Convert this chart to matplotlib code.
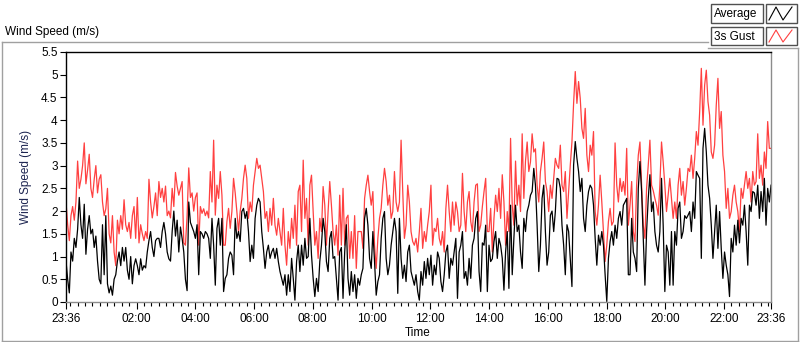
import numpy as np
import matplotlib
matplotlib.use("Agg")
import matplotlib.pyplot as plt
from matplotlib.lines import Line2D
from matplotlib.patches import Rectangle

plt.rcParams['font.family'] = ['Liberation Sans', 'DejaVu Sans']

# Readings taken at even steps (~3.4 min) from 23:36 to 23:36, in five stretches
gust_1 = [2.2, 1.7, 1.35, 1.9, 2.1, 1.8, 2.2, 3.1, 2.5, 2.7, 3.0, 3.5, 2.6, 2.9, 3.25,
          2.5, 2.3, 2.7, 3.0, 2.4, 2.7, 2.8, 2.2, 1.9, 2.05, 2.5, 1.5, 1.3, 1.9, 1.1,
          0.8, 1.8, 1.5, 1.9, 1.6, 2.25, 1.7, 1.55, 1.75, 1.4, 1.9, 2.1, 1.4, 2.3, 1.3,
          1.7, 1.5, 1.35, 1.55, 1.4, 2.7, 2.2, 1.85, 2.1, 2.4, 1.9, 2.65, 2.3, 2.5, 2.2,
          2.55, 1.9, 2.0, 1.85, 2.5, 2.1, 2.85, 2.55, 2.35, 2.5, 2.65, 1.3, 1.25, 1.9,
          2.95, 2.3, 2.4, 2.0, 2.3, 2.4, 1.25, 2.1, 1.95, 2.05, 1.9]
gust_2 = [2.0, 1.85, 2.87, 2.2, 3.56, 1.91, 2.57, 2.28, 2.87, 2.35, 1.25, 1.25, 1.77,
          2.06, 1.62, 1.99, 2.72, 2.4, 1.99, 1.55, 1.99, 2.28, 2.72, 3.01, 2.72, 1.84,
          2.2, 1.99, 2.57, 2.87, 3.16, 2.94, 3.01, 2.72, 2.43, 1.84, 1.99, 1.55, 2.06,
          1.69, 2.28, 1.69, 1.47, 1.84, 1.55, 1.25, 2.06, 1.25, 0.81, 1.55, 1.18, 1.84,
          1.4, 2.13, 1.25, 2.43, 2.57, 1.55, 3.12, 1.84, 2.28, 1.25, 2.57, 2.79, 1.99,
          1.25, 1.55, 0.96, 1.84, 1.55, 2.54, 2.13, 1.25, 1.99, 2.65, 2.13, 1.55, 1.25,
          1.69, 1.03, 2.35, 1.25, 2.5, 1.25, 1.84]
gust_3 = [1.91, 0.96, 1.55, 0.96, 1.9, 0.74, 1.55, 1.55, 1.55, 1.18, 2.28, 2.57, 2.79,
          2.43, 2.13, 2.43, 1.25, 0.74, 1.4, 1.84, 2.06, 2.57, 2.94, 2.65, 2.13, 2.35,
          1.84, 1.99, 2.87, 2.2, 1.99, 2.2, 3.56, 2.43, 1.4, 1.69, 2.57, 2.2, 1.55, 1.33,
          1.25, 1.4, 1.1, 1.55, 2.06, 1.18, 1.55, 1.33, 1.69, 1.99, 2.57, 1.25, 1.62,
          1.55, 1.84, 1.4, 1.25, 1.55, 1.1, 2.06, 2.57, 1.99, 1.55, 2.2, 1.69, 2.2, 1.99,
          1.55, 1.69, 2.83, 1.99, 1.55, 2.2, 2.43, 1.77, 1.55, 2.2, 2.57, 2.6, 1.55,
          1.69, 2.1, 2.43, 2.72, 1.55]
gust_4 = [1.55, 2.06, 1.1, 1.84, 2.35, 1.99, 2.5, 1.84, 2.8, 2.2, 1.25, 1.99, 1.55,
          3.6, 2.13, 1.69, 3.1, 2.13, 2.57, 1.99, 3.7, 2.28, 3.1, 3.52, 2.87, 3.08, 3.7,
          3.3, 3.37, 2.57, 2.2, 2.87, 3.16, 3.52, 2.65, 2.43, 1.99, 2.57, 2.28, 2.72,
          3.16, 3.01, 2.94, 3.45, 2.57, 2.43, 2.87, 1.84, 2.43, 3.01, 3.52, 4.37, 5.07,
          4.37, 4.85, 4.48, 3.82, 3.6, 4.26, 3.23, 2.87, 3.45, 3.23, 3.75, 1.99, 1.69,
          2.13, 2.79, 2.2, 1.55, 0.89, 1.25, 1.77, 2.06, 1.69, 1.77, 3.5, 2.57, 2.2,
          2.72, 2.43, 2.65, 2.35, 3.38, 1.69]
gust_5 = [2.13, 2.65, 1.55, 1.33, 2.57, 3.23, 3.52, 2.57, 1.69, 1.4, 2.5, 3.01, 3.56,
          2.57, 2.45, 2.28, 2.13, 1.91, 2.57, 3.52, 3.08, 2.57, 1.99, 2.35, 2.72, 2.28,
          1.84, 2.2, 1.84, 2.57, 2.94, 2.35, 2.65, 2.13, 2.5, 2.94, 2.87, 3.23, 2.72,
          3.16, 3.75, 3.45, 4.19, 5.14, 3.89, 4.77, 5.1, 4.41, 4.11, 3.3, 3.16, 3.45,
          4.33, 4.92, 3.82, 4.19, 3.23, 2.87, 2.06, 2.5, 1.84, 1.99, 2.35, 2.57, 2.2,
          1.99, 1.55, 2.5, 2.28, 2.57, 2.87, 2.5, 2.72, 2.2, 2.87, 2.57, 2.65, 3.7, 2.72,
          3.01, 2.57, 3.3, 2.94, 3.97, 3.38, 3.38]

avg_1 = [0.9, 0.5, 0.2, 1.1, 0.9, 1.4, 1.2, 1.6, 2.3, 1.7, 1.4, 2.15, 1.05, 1.6, 1.9,
         1.5, 1.6, 1.2, 1.45, 0.9, 0.5, 0.4, 1.7, 0.6, 1.9, 0.4, 0.2, 0.35, 0.15, 0.5,
         0.6, 0.9, 1.1, 0.8, 1.2, 0.9, 1.2, 0.7, 0.5, 1.0, 0.4, 0.8, 0.95, 0.8, 0.6,
         0.95, 0.7, 0.8, 0.75, 1.1, 1.35, 1.55, 1.2, 1.0, 1.35, 1.4, 1.4, 1.2, 1.55,
         1.75, 1.5, 1.1, 0.95, 0.9, 1.55, 2.0, 1.45, 1.8, 1.1, 1.65, 1.4, 1.1, 0.5,
         0.25, 2.2, 1.75, 1.65, 1.55, 1.4, 1.7, 0.6, 1.55, 1.5, 1.4, 1.55]
avg_2 = [1.5, 1.4, 0.96, 1.84, 1.25, 0.37, 1.62, 1.84, 1.25, 1.84, 0.23, 0.52, 0.6,
         0.96, 1.1, 1.03, 0.6, 1.84, 1.4, 1.55, 1.33, 1.99, 2.06, 1.84, 1.99, 1.55,
         0.89, 1.25, 0.96, 1.84, 2.13, 2.28, 2.2, 1.55, 1.18, 0.74, 1.1, 1.25, 0.96,
         1.1, 1.18, 0.96, 1.18, 0.89, 0.67, 0.52, 0.37, 0.6, 0.15, 0.6, 0.23, 0.96,
         0.52, 0.04, 0.89, 1.25, 0.67, 1.25, 0.81, 1.4, 0.96, 1.0, 1.84, 1.03, 0.52,
         0.12, 0.52, 0.23, 0.89, 1.25, 1.84, 1.55, 0.89, 0.67, 1.4, 1.55, 0.96, 1.0,
         0.52, 0.04, 1.1, 1.2, 0.08, 1.1, 1.7]
avg_3 = [0.52, 0.15, 0.67, 0.23, 0.6, 0.08, 0.52, 0.37, 0.6, 0.74, 1.84, 2.06, 1.69,
         0.96, 0.74, 1.55, 0.89, 0.15, 0.45, 0.6, 1.4, 1.84, 1.99, 0.96, 0.6, 0.81,
         1.25, 1.55, 1.84, 1.55, 0.19, 1.84, 0.96, 0.52, 0.81, 0.45, 1.1, 1.25, 0.67,
         0.52, 0.37, 0.6, 0.23, 0.04, 0.67, 0.37, 0.89, 0.52, 0.96, 0.6, 1.03, 0.37,
         0.81, 0.6, 1.1, 0.96, 0.45, 0.23, 0.6, 1.1, 1.25, 0.52, 0.96, 0.81, 1.1, 1.4,
         0.08, 1.1, 1.25, 1.55, 0.52, 0.67, 0.37, 0.96, 0.52, 1.25, 1.4, 1.84, 1.99,
         0.67, 0.23, 1.3, 1.25, 1.69, 0.23]
avg_4 = [1.25, 0.89, 0.95, 1.33, 1.55, 0.96, 1.4, 1.25, 0.96, 0.26, 1.1, 1.55, 0.3,
         2.13, 0.6, 1.4, 2.13, 1.55, 1.69, 1.1, 0.74, 1.84, 1.55, 1.99, 2.13, 2.35,
         2.43, 2.94, 2.57, 1.69, 0.67, 1.25, 2.28, 2.57, 1.55, 0.81, 1.1, 1.91, 2.0,
         1.55, 1.99, 2.72, 2.7, 2.5, 1.69, 1.25, 0.6, 1.7, 1.55, 0.96, 0.34, 3.01,
         3.53, 3.16, 2.87, 2.43, 2.72, 1.84, 1.55, 2.13, 2.43, 2.57, 2.5, 2.13, 1.4,
         0.81, 1.47, 1.25, 1.55, 1.25, 0.6, 0.01, 0.96, 1.33, 1.55, 1.25, 1.69, 1.4,
         1.84, 1.99, 1.69, 2.13, 2.2, 2.28, 0.6]
avg_5 = [0.6, 1.84, 1.1, 0.96, 0.67, 2.5, 3.09, 2.43, 1.4, 0.37, 1.55, 2.28, 2.8, 1.99,
         2.2, 1.55, 1.25, 1.1, 1.55, 2.72, 1.69, 0.23, 1.25, 1.1, 0.37, 1.55, 0.37,
         1.55, 1.25, 2.06, 2.2, 1.4, 1.55, 1.9, 1.84, 1.91, 1.99, 1.55, 2.2, 1.84,
         2.87, 2.79, 2.72, 0.96, 3.38, 3.82, 3.3, 2.57, 2.28, 1.69, 0.96, 1.55, 2.13,
         1.18, 1.99, 1.18, 0.52, 1.1, 0.81, 0.6, 0.12, 1.4, 1.1, 1.69, 1.25, 1.8, 1.3,
         1.84, 1.69, 2.13, 1.55, 0.81, 2.13, 1.99, 2.43, 2.4, 2.13, 2.57, 1.84, 2.43,
         1.99, 2.72, 1.69, 2.5, 2.2, 2.57]

gust = gust_1 + gust_2 + gust_3 + gust_4 + gust_5
average = avg_1 + avg_2 + avg_3 + avg_4 + avg_5

tick_labels = ["23:36", "02:00", "04:00", "06:00", "08:00", "10:00", "12:00",
               "14:00", "16:00", "18:00", "20:00", "22:00", "23:36"]
tick_hours = [0, 2.4, 4.4, 6.4, 8.4, 10.4, 12.4, 14.4, 16.4, 18.4, 20.4, 22.4, 24]
y_ticks = [0, 0.5, 1, 1.5, 2, 2.5, 3, 3.5, 4, 4.5, 5, 5.5]
y_tick_labels = ["0", "0.5", "1", "1.5", "2", "2.5", "3", "3.5", "4", "4.5", "5", "5.5"]

W, H = 800, 342
fig = plt.figure(figsize=(W / 100, H / 100), dpi=100)
fig.patch.set_facecolor('white')

def fx(px):
    return px / W

def fy(py):
    return 1 - py / H

ax = fig.add_axes([fx(66), fy(302), fx(771) - fx(66), fy(52) - fy(302)])

t_g = np.linspace(0, 24, len(gust))
t_a = np.linspace(0, 24, len(average))
ax.plot(t_g, gust, color='#ff4040', lw=0.9)
ax.plot(t_a, average, color='black', lw=0.9)

ax.set_xlim(0, 24)
ax.set_ylim(0, 5.5)

ax.set_yticks(y_ticks)
ax.set_yticklabels(y_tick_labels)
ax.set_xticks(tick_hours)
ax.set_xticklabels(tick_labels)
minor = [m for m in np.arange(0.15, 24, 0.25) if all(abs(m - h) > 1e-6 for h in tick_hours)]
ax.set_xticks(minor, minor=True)

ax.tick_params(axis='y', which='major', length=4, width=0.8, direction='out', labelsize=8.5, pad=2)
ax.tick_params(axis='x', which='major', length=5, width=0.8, direction='out', labelsize=8.5, pad=3)
ax.tick_params(axis='x', which='minor', length=3, width=0.8, direction='out')

for side in ['left', 'top']:
    ax.spines[side].set_color('black')
    ax.spines[side].set_linewidth(1.0)
for side in ['right', 'bottom']:
    ax.spines[side].set_color('#8c8c8c')
    ax.spines[side].set_linewidth(1.0)

ax.set_ylabel('Wind Speed (m/s)', fontsize=8.5, color='#1c2450')
ax.yaxis.set_label_coords((32 - 66) / 705, 0.5)
ax.set_xlabel('Time', fontsize=8.5, color='black')
ax.xaxis.set_label_coords((418 - 66) / 705, (302 - 327) / 250)

fig.text(fx(5), fy(32), 'Wind Speed (m/s)', fontsize=8.5, ha='left', va='center')

# outer frame
frame_col = '#a0a0a0'
def fline(x0, y0, x1, y1, col=frame_col, lw=1.0):
    fig.add_artist(Line2D([fx(x0), fx(x1)], [fy(y0), fy(y1)], color=col, lw=lw,
                          transform=fig.transFigure))

fline(1.5, 42, 708, 42)
fline(708, 48, 798, 48)
fline(798, 48, 798, 340.5)
fline(1.5, 340.5, 798, 340.5)
fline(1.5, 42, 1.5, 340.5)

# legend
def fbox(x0, y0, x1, y1):
    fig.add_artist(Rectangle((fx(x0), fy(y1)), fx(x1) - fx(x0), fy(y0) - fy(y1),
                             transform=fig.transFigure, facecolor='white',
                             edgecolor='#505050', lw=1.0))

leg = [('Average', 'black', 4, 23), ('3s Gust', '#ff4040', 27, 45)]
for name, col, y0, y1 in leg:
    fbox(711, y0, 763, y1)
    fig.text(fx(714), fy((y0 + y1) / 2 + 0.5), name, fontsize=8.5, ha='left', va='center')
    fbox(766, y0, 797, y1)
    zx = [769, 776, 783, 792]
    zy = [y1 - 3, y0 + 3, y1 - 3, y0 + 3]
    fig.add_artist(Line2D([fx(v) for v in zx], [fy(v) for v in zy], color=col, lw=0.8,
                          transform=fig.transFigure))

fig.savefig('out.png', dpi=100, facecolor='white')
